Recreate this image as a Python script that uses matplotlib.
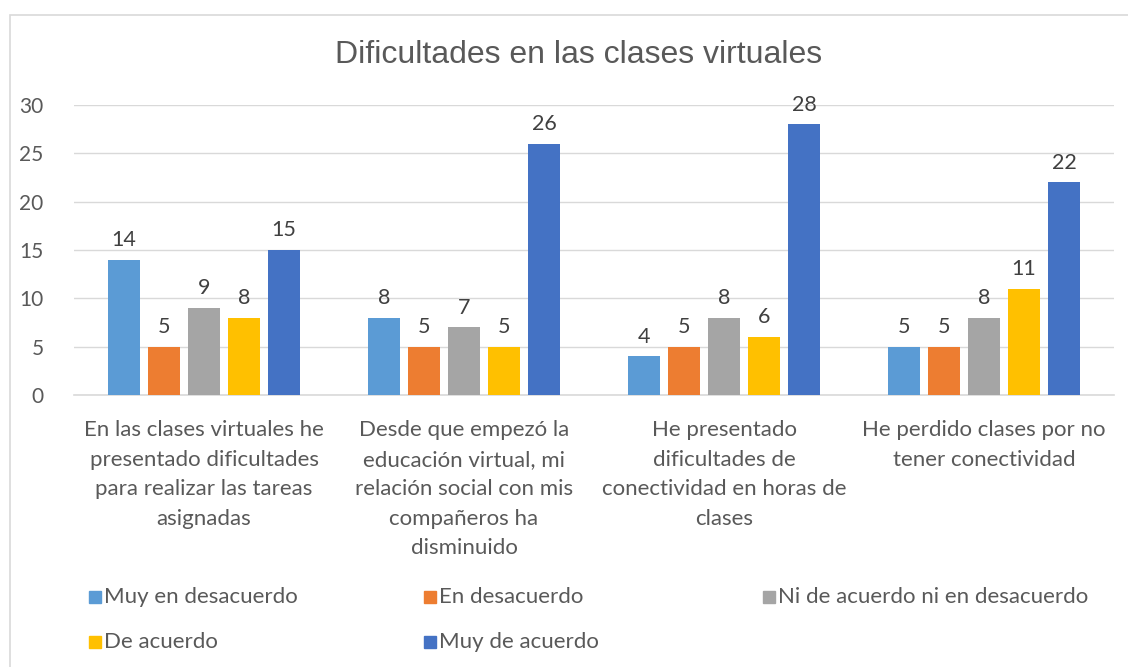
import matplotlib.pyplot as plt
from matplotlib.patches import Rectangle
import numpy as np

categories = [
    "En las clases virtuales he\npresentado dificultades\npara realizar las tareas\nasignadas",
    "Desde que empezó la\neducación virtual, mi\nrelación social con mis\ncompañeros ha\ndisminuido",
    "He presentado\ndificultades de\nconectividad en horas de\nclases",
    "He perdido clases por no\ntener conectividad",
]
series = ["Muy en desacuerdo", "En desacuerdo", "Ni de acuerdo ni en desacuerdo",
          "De acuerdo", "Muy de acuerdo"]
muy_en_desacuerdo = [14, 8, 4, 5]
en_desacuerdo = [5, 5, 5, 5]
ni_ni = [9, 7, 8, 8]
de_acuerdo = [8, 5, 6, 11]
muy_de_acuerdo = [15, 26, 28, 22]
values = [muy_en_desacuerdo, en_desacuerdo, ni_ni, de_acuerdo, muy_de_acuerdo]
colors = ["#5B9BD5", "#ED7D31", "#A5A5A5", "#FFC000", "#4472C4"]

txt = "#595959"
W, H = 1128, 667
fig = plt.figure(figsize=(W / 100, H / 100), dpi=100)
ax = fig.add_axes([74 / W, 1 - 395 / H, (1114 - 74) / W, (395 - 105) / H])

# chart border (right and bottom edges fall outside the image)
fig.patches.append(Rectangle((10 / W, -0.1), 1.0, 1 - 15 / H + 0.1,
                             transform=fig.transFigure, fill=False,
                             ec="#D9D9D9", lw=1.2))

x = np.arange(len(categories))
step, width = 0.154, 0.123
for i, (vals, c) in enumerate(zip(values, colors)):
    bars = ax.bar(x + (i - 2) * step, vals, width, color=c, zorder=3)
    for b, v in zip(bars, vals):
        ax.text(b.get_x() + b.get_width() / 2, v + 1.0, str(v), ha="center",
                va="bottom", fontsize=15.5, color="#404040", family="Lato")

ax.set_xlim(-0.5, 3.5)
ax.set_ylim(0, 30)
ax.set_yticks(range(0, 31, 5))
ax.grid(axis="y", color="#D9D9D9", lw=1, zorder=0)
for s in ["top", "right", "left"]:
    ax.spines[s].set_visible(False)
ax.spines["bottom"].set_color("#D9D9D9")
ax.spines["bottom"].set_linewidth(1.2)
ax.tick_params(length=0, labelsize=15, labelcolor=txt)
ax.tick_params(axis="y", pad=22)
ax.set_xticks(x)
ax.set_xticklabels(categories, family="Lato", fontsize=16, linespacing=1.6, va="top")
for lab in ax.get_yticklabels():
    lab.set_family("Lato")
ax.tick_params(axis="x", pad=18)

fig.text(579 / W, 1 - 55 / H, "Dificultades en las clases virtuales", ha="center",
         va="center", fontsize=23, color=txt, family="Liberation Sans")

# legend
pos = [(89, 597), (424, 597), (763, 597), (89, 642), (424, 642)]
for (px, py), name, c in zip(pos, series, colors):
    fig.patches.append(Rectangle((px / W, 1 - (py + 6) / H), 12 / W, 12 / H,
                                 transform=fig.transFigure, color=c))
    fig.text((px + 15) / W, 1 - py / H, name, ha="left", va="center",
             fontsize=16, color=txt, family="Lato")

fig.savefig("out.png", dpi=100)
